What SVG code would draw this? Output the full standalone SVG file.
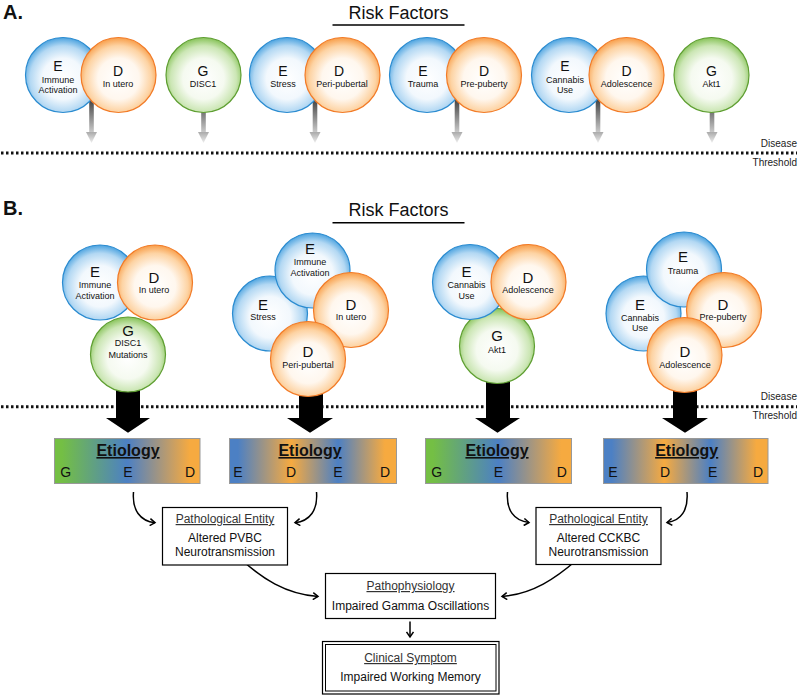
<svg xmlns="http://www.w3.org/2000/svg" width="800" height="697" viewBox="0 0 800 697">
<defs>
<radialGradient id="gB" cx="0.5" cy="0.55" r="0.55">
<stop offset="0" stop-color="#ffffff"/><stop offset="0.5" stop-color="#f2f8fd"/><stop offset="0.8" stop-color="#b3d8f3"/><stop offset="1" stop-color="#4aa2df"/>
</radialGradient>
<radialGradient id="gO" cx="0.5" cy="0.55" r="0.55">
<stop offset="0" stop-color="#ffffff"/><stop offset="0.5" stop-color="#fff7ee"/><stop offset="0.8" stop-color="#fdd3a3"/><stop offset="1" stop-color="#f89d48"/>
</radialGradient>
<radialGradient id="gG" cx="0.5" cy="0.55" r="0.55">
<stop offset="0" stop-color="#ffffff"/><stop offset="0.5" stop-color="#f5faf0"/><stop offset="0.8" stop-color="#cbe6b4"/><stop offset="1" stop-color="#86c257"/>
</radialGradient>
<linearGradient id="gStem" x1="0" y1="0" x2="0" y2="1">
<stop offset="0" stop-color="#444"/><stop offset="1" stop-color="#c8c8c8"/>
</linearGradient>
<linearGradient id="gHead" x1="0" y1="0" x2="0" y2="1">
<stop offset="0" stop-color="#aaa"/><stop offset="1" stop-color="#eee"/>
</linearGradient>
<linearGradient id="gGED" x1="0" y1="0" x2="1" y2="0">
<stop offset="0.05" stop-color="#74bf44"/><stop offset="0.5" stop-color="#4c80c4"/><stop offset="0.93" stop-color="#f6aa40"/>
</linearGradient>
<linearGradient id="gEDED" x1="0" y1="0" x2="1" y2="0">
<stop offset="0.05" stop-color="#4c80c4"/><stop offset="0.37" stop-color="#f6aa40"/><stop offset="0.65" stop-color="#4c80c4"/><stop offset="0.93" stop-color="#f6aa40"/>
</linearGradient>
<marker id="chev" markerWidth="8" markerHeight="8" refX="6" refY="4" orient="auto" markerUnits="userSpaceOnUse">
<path d="M1,0.5 L6,4 L1,7.5" fill="none" stroke="#000" stroke-width="1.5"/>
</marker>
<symbol id="grayArrow" overflow="visible">
<rect x="-2.3" y="0" width="4.6" height="32" fill="url(#gStem)"/>
<polygon points="-5.5,32 5.5,32 0,43" fill="url(#gHead)"/>
</symbol>
</defs>
<style>
text{font-family:"Liberation Sans",Arial,sans-serif;fill:#111;text-anchor:middle}
.ttl{font-size:20px;font-weight:bold;text-anchor:start}
.rf{font-size:18px}
.L{font-size:14px}
.LB{font-size:15px}
.s{font-size:9px}
.th{font-size:10px;text-anchor:end;fill:#222}
.cB{fill:url(#gB);stroke:#2a8bd0;stroke-width:1.2}
.cO{fill:url(#gO);stroke:#f27b27;stroke-width:1.2}
.cG{fill:url(#gG);stroke:#5e9e31;stroke-width:1.2}
.dots{stroke:#111;stroke-width:3;stroke-dasharray:2.5 2.5;fill:none}
.bar{stroke:#999;stroke-width:1}
.et{font-size:16px;font-weight:bold;text-decoration:underline}
.bl{font-size:14px}
.box{fill:#fff;stroke:#000;stroke-width:1.2}
.hd{font-size:12px;text-decoration:underline;fill:#333}
.bt{font-size:12px}
.cur{fill:none;stroke:#000;stroke-width:1.5;marker-end:url(#chev)}
</style>

<text class="ttl" x="3" y="19">A.</text>
<text class="rf" x="398.5" y="19">Risk Factors</text>
<line x1="332.5" y1="25" x2="464.5" y2="25" stroke="#000" stroke-width="1.5"/>
<text class="ttl" x="3" y="215">B.</text>
<text class="rf" x="398.5" y="216">Risk Factors</text>
<line x1="332.5" y1="222.7" x2="464.5" y2="222.7" stroke="#000" stroke-width="1.5"/>

<g id="thresholdA">
<line class="dots" x1="1" y1="153" x2="797" y2="153"/>
<text class="th" x="797" y="147">Disease</text>
<text class="th" x="797" y="166">Threshold</text>
</g>
<g id="thresholdB">
<line class="dots" x1="1" y1="406.7" x2="797" y2="406.7"/>
<text class="th" x="797" y="400">Disease</text>
<text class="th" x="797" y="419">Threshold</text>
</g>

<g id="connectors">
<use href="#grayArrow" x="91.5" y="100"/>
<use href="#grayArrow" x="203.5" y="100"/>
<use href="#grayArrow" x="315" y="100"/>
<use href="#grayArrow" x="457" y="100"/>
<use href="#grayArrow" x="598" y="100"/>
<use href="#grayArrow" x="712" y="100"/>
<polygon points="116,380 140,380 140,418 150,418 128,432.7 106,418 116,418" fill="#000"/>
<polygon points="299,380 323,380 323,418 333,418 310,432.7 287,418 299,418" fill="#000"/>
<polygon points="486,370 510,370 510,418 520,418 497.5,432.7 475,418 486,418" fill="#000"/>
<polygon points="673,380 697,380 697,418 708,418 685,432.7 662,418 673,418" fill="#000"/>
<path class="cur" d="M133.5,492 C132,510 140,521 155,522.7"/>
<path class="cur" d="M316.5,492 C318,510 310,521 295,522.7"/>
<path class="cur" d="M507.5,492 C506,510 514,521 529,522.5"/>
<path class="cur" d="M687,492 C688.5,510 681,521 667,522.5"/>
<path class="cur" d="M241.7,560 C262,578 285,594 318,596.5"/>
<path class="cur" d="M576.7,560 C556,578 533,594 502,596.5"/>
<path class="cur" d="M410,621.5 L410,637"/>
</g>

<g id="A-immune-inutero">
<circle class="cB" cx="63" cy="75" r="37.5"/>
<circle class="cO" cx="118.5" cy="75" r="37.5"/>
<text class="L" x="58" y="71">E</text><text class="s" x="58" y="83">Immune</text><text class="s" x="58" y="93">Activation</text>
<text class="L" x="118" y="76">D</text><text class="s" x="118" y="87">In utero</text>
</g>
<g id="A-disc1">
<circle class="cG" cx="203.5" cy="75" r="37.5"/>
<text class="L" x="203" y="76">G</text><text class="s" x="203" y="87">DISC1</text>
</g>
<g id="A-stress-peri">
<circle class="cB" cx="287" cy="75" r="37.5"/>
<circle class="cO" cx="342.5" cy="75" r="37.5"/>
<text class="L" x="283" y="76">E</text><text class="s" x="283" y="87">Stress</text>
<text class="L" x="339" y="76">D</text><text class="s" x="342" y="87">Peri-pubertal</text>
</g>
<g id="A-trauma-prepuberty">
<circle class="cB" cx="427" cy="75" r="37.5"/>
<circle class="cO" cx="484" cy="75" r="37.5"/>
<text class="L" x="423" y="76">E</text><text class="s" x="423" y="87">Trauma</text>
<text class="L" x="484" y="76">D</text><text class="s" x="484" y="87">Pre-puberty</text>
</g>
<g id="A-cannabis-adolescence">
<circle class="cB" cx="569" cy="75" r="37.5"/>
<circle class="cO" cx="626.5" cy="75" r="37.5"/>
<text class="L" x="565" y="71">E</text><text class="s" x="565" y="83">Cannabis</text><text class="s" x="565" y="93">Use</text>
<text class="L" x="626.5" y="76">D</text><text class="s" x="626.5" y="87">Adolescence</text>
</g>
<g id="A-akt1">
<circle class="cG" cx="711.5" cy="75" r="37.5"/>
<text class="L" x="711.5" y="76">G</text><text class="s" x="711.5" y="87">Akt1</text>
</g>

<g id="B-group1">
<circle class="cG" cx="128" cy="354.5" r="37.5"/>
<circle class="cB" cx="100" cy="282.5" r="37.5"/>
<circle class="cO" cx="155" cy="282.5" r="37.5"/>
<text class="LB" x="95" y="277">E</text><text class="s" x="95" y="288">Immune</text><text class="s" x="95" y="299">Activation</text>
<text class="LB" x="154" y="283">D</text><text class="s" x="154" y="293">In utero</text>
<text class="LB" x="128" y="336">G</text><text class="s" x="128" y="346">DISC1</text><text class="s" x="128" y="357.5">Mutations</text>
</g>
<g id="B-group2">
<circle class="cB" cx="270" cy="313.5" r="37.5"/>
<circle class="cB" cx="312.5" cy="270.5" r="37.5"/>
<circle class="cO" cx="351" cy="310" r="37.5"/>
<circle class="cO" cx="308" cy="359" r="37.5"/>
<text class="LB" x="310" y="254">E</text><text class="s" x="310" y="265">Immune</text><text class="s" x="310" y="275.5">Activation</text>
<text class="LB" x="263" y="310">E</text><text class="s" x="263" y="320">Stress</text>
<text class="LB" x="351" y="310">D</text><text class="s" x="351" y="320">In utero</text>
<text class="LB" x="308" y="357">D</text><text class="s" x="308" y="367.5">Peri-pubertal</text>
</g>
<g id="B-group3">
<circle class="cG" cx="497" cy="346" r="37.5"/>
<circle class="cB" cx="470" cy="282" r="37.5"/>
<circle class="cO" cx="528.5" cy="282" r="37.5"/>
<text class="LB" x="466.5" y="277">E</text><text class="s" x="466.5" y="288">Cannabis</text><text class="s" x="466.5" y="299">Use</text>
<text class="LB" x="528" y="283">D</text><text class="s" x="528" y="293">Adolescence</text>
<text class="LB" x="497" y="341">G</text><text class="s" x="497" y="352.5">Akt1</text>
</g>
<g id="B-group4">
<circle class="cB" cx="643.5" cy="313.5" r="37.5"/>
<circle class="cB" cx="684" cy="269.5" r="37.5"/>
<circle class="cO" cx="724" cy="310" r="37.5"/>
<circle class="cO" cx="684.5" cy="355" r="37.5"/>
<text class="LB" x="683" y="262">E</text><text class="s" x="683" y="273.5">Trauma</text>
<text class="LB" x="640" y="310">E</text><text class="s" x="640" y="320.5">Cannabis</text><text class="s" x="640" y="331">Use</text>
<text class="LB" x="723" y="310">D</text><text class="s" x="723" y="320">Pre-puberty</text>
<text class="LB" x="685" y="357">D</text><text class="s" x="685" y="367.5">Adolescence</text>
</g>

<g id="etiology1">
<rect class="bar" x="54.5" y="438.5" width="145.5" height="45" fill="url(#gGED)"/>
<text class="et" x="128" y="456">Etiology</text>
<text class="bl" x="65.7" y="477">G</text><text class="bl" x="128" y="477">E</text><text class="bl" x="190" y="477">D</text>
</g>
<g id="etiology2">
<rect class="bar" x="229.5" y="438.5" width="167" height="45" fill="url(#gEDED)"/>
<text class="et" x="310" y="456">Etiology</text>
<text class="bl" x="238" y="477">E</text><text class="bl" x="291" y="477">D</text><text class="bl" x="338" y="477">E</text><text class="bl" x="385" y="477">D</text>
</g>
<g id="etiology3">
<rect class="bar" x="425.5" y="438.5" width="146" height="45" fill="url(#gGED)"/>
<text class="et" x="497" y="456">Etiology</text>
<text class="bl" x="436.7" y="477">G</text><text class="bl" x="498.3" y="477">E</text><text class="bl" x="561.7" y="477">D</text>
</g>
<g id="etiology4">
<rect class="bar" x="603.5" y="438.5" width="164.5" height="45" fill="url(#gEDED)"/>
<text class="et" x="686.7" y="456">Etiology</text>
<text class="bl" x="613" y="477">E</text><text class="bl" x="665" y="477">D</text><text class="bl" x="712.7" y="477">E</text><text class="bl" x="758" y="477">D</text>
</g>

<g id="entity-pvbc">
<rect class="box" x="162.5" y="507.5" width="125" height="57.5"/>
<text class="hd" x="225" y="523">Pathological Entity</text>
<text class="bt" x="225" y="542">Altered PVBC</text>
<text class="bt" x="225" y="556">Neurotransmission</text>
</g>
<g id="entity-cckbc">
<rect class="box" x="536" y="507.5" width="125" height="57"/>
<text class="hd" x="598.5" y="523">Pathological Entity</text>
<text class="bt" x="598.5" y="542">Altered CCKBC</text>
<text class="bt" x="598.5" y="556">Neurotransmission</text>
</g>
<g id="pathophysiology">
<rect class="box" x="325.5" y="573.5" width="170" height="45"/>
<text class="hd" x="410.5" y="590">Pathophysiology</text>
<text class="bt" x="410.5" y="610">Impaired Gamma Oscillations</text>
</g>
<g id="clinical">
<rect class="box" x="322.5" y="641.5" width="176.5" height="52.5" stroke-width="1.5"/>
<rect x="325.5" y="644.5" width="170.5" height="46.5" fill="none" stroke="#000" stroke-width="1"/>
<text class="hd" x="410.5" y="662">Clinical Symptom</text>
<text class="bt" x="410.5" y="681">Impaired Working Memory</text>
</g>
</svg>
